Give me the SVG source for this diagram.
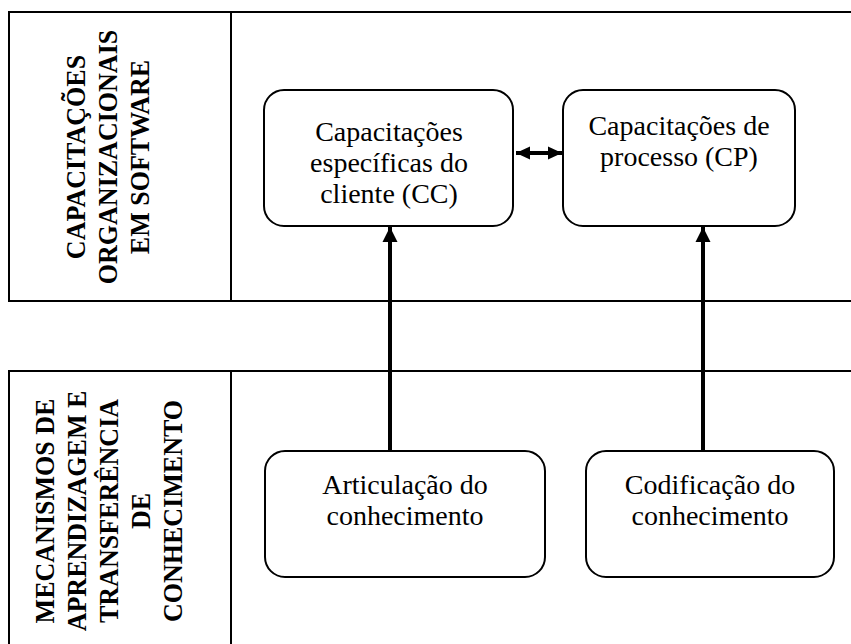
<svg xmlns="http://www.w3.org/2000/svg" width="851" height="644" viewBox="0 0 851 644">
<style>
.tbl{fill:none;stroke:#000;stroke-width:2}
.box{fill:#fff;stroke:#000;stroke-width:2}
.t{font-family:"Liberation Serif","Times New Roman",serif;font-size:28px;fill:#000;text-anchor:middle}
.v{font-family:"Liberation Serif","Times New Roman",serif;font-size:28px;font-weight:bold;fill:#000;text-anchor:middle}
.arr{stroke:#000;stroke-width:4;fill:none}
</style>
<defs>
<marker id="ah" markerUnits="userSpaceOnUse" markerWidth="16" markerHeight="16" viewBox="0 0 16 16" refX="15" refY="8" orient="auto-start-reverse">
<path d="M0,0.5 L15,8 L0,15.5 Z" fill="#000"/>
</marker>
<marker id="ah2" markerUnits="userSpaceOnUse" markerWidth="15" markerHeight="15" viewBox="0 0 15 15" refX="14" refY="7.5" orient="auto-start-reverse">
<path d="M0,1 L14,7.5 L0,14 Z" fill="#000"/>
</marker>
</defs>
<rect width="851" height="644" fill="#fff"/>
<g id="table-top">
<path class="tbl" d="M852,12 H9 V301 H852 M231,12 V301"/>
</g>
<g id="label-top">
<text class="v" transform="translate(85,157) rotate(-90) scale(0.93,1)">CAPACITAÇÕES</text>
<text class="v" transform="translate(117,157) rotate(-90) scale(0.93,1)">ORGANIZACIONAIS</text>
<text class="v" transform="translate(149,157) rotate(-90) scale(0.93,1)">EM SOFTWARE</text>
</g>
<g id="table-bottom">
<path class="tbl" d="M852,371 H9 V646 M231,371 V646"/>
</g>
<g id="label-bottom">
<text class="v" transform="translate(54,511) rotate(-90) scale(0.93,1)">MECANISMOS DE</text>
<text class="v" transform="translate(86,511) rotate(-90) scale(0.93,1)">APRENDIZAGEM E</text>
<text class="v" transform="translate(118,511) rotate(-90) scale(0.93,1)">TRANSFERÊNCIA</text>
<text class="v" transform="translate(150,511) rotate(-90) scale(0.93,1)">DE</text>
<text class="v" transform="translate(182,511) rotate(-90) scale(0.93,1)">CONHECIMENTO</text>
</g>
<g id="connectors">
<line class="arr" x1="390" y1="451" x2="390" y2="227" marker-end="url(#ah)"/>
<line class="arr" x1="703" y1="451" x2="703" y2="227" marker-end="url(#ah)"/>
<line class="arr" x1="516" y1="153" x2="562" y2="153" marker-start="url(#ah2)" marker-end="url(#ah2)"/>
</g>
<g id="node-cc">
<rect class="box" x="264" y="90" width="249" height="136" rx="20"/>
<text class="t" x="389" y="141">Capacitações</text>
<text class="t" x="389" y="172">específicas do</text>
<text class="t" x="389" y="203">cliente (CC)</text>
</g>
<g id="node-cp">
<rect class="box" x="563" y="90" width="232" height="136" rx="20"/>
<text class="t" x="679" y="135">Capacitações de</text>
<text class="t" x="679" y="166">processo (CP)</text>
</g>
<g id="node-art">
<rect class="box" x="265" y="451" width="280" height="126" rx="20"/>
<text class="t" x="405" y="494">Articulação do</text>
<text class="t" x="405" y="525">conhecimento</text>
</g>
<g id="node-cod">
<rect class="box" x="586" y="451" width="248" height="126" rx="20"/>
<text class="t" x="710" y="494">Codificação do</text>
<text class="t" x="710" y="525">conhecimento</text>
</g>
</svg>
